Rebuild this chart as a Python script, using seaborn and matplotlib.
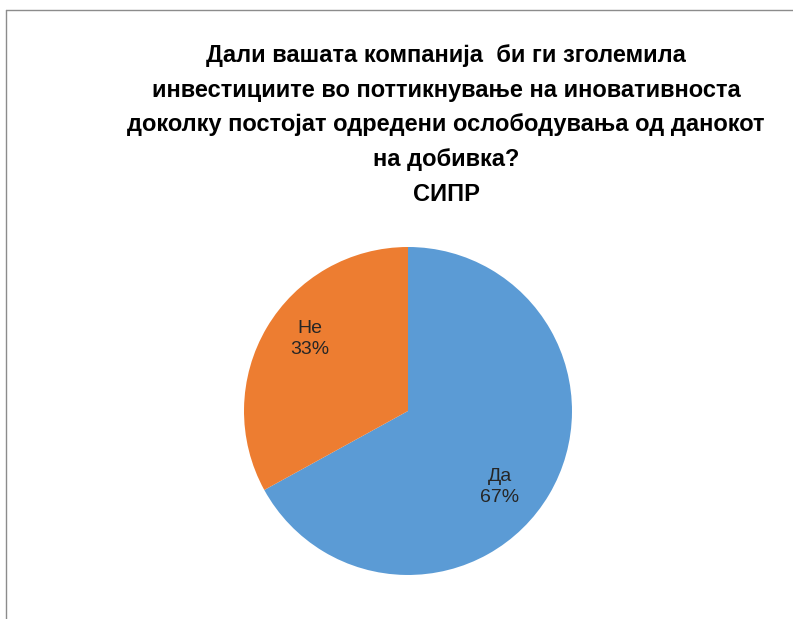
import matplotlib
matplotlib.use("Agg")
import matplotlib.pyplot as plt
from matplotlib.lines import Line2D
import seaborn as sns

# DATA
labels = ["Да", "Не"]
shares = [67, 33]
colors = ["#5B9BD5", "#ED7D31"]
title = ("Дали вашата компанија  би ги зголемила\n"
         "инвестициите во поттикнување на иновативноста\n"
         "доколку постојат одредени ослободувања од данокот\n"
         "на добивка?\n"
         "СИПР")

sns.set_theme(style="white")
plt.rcParams["font.family"] = ["Liberation Sans", "DejaVu Sans"]

fig = plt.figure(figsize=(7.93, 6.19), dpi=100)
fig.patch.set_facecolor("white")

# pie axes placed to match the reference pie
ax = fig.add_axes([0.3077, 0.0711, 0.4136, 0.5299])

it = iter(labels)
wedges, texts, autotexts = ax.pie(
    shares,
    colors=sns.color_palette(colors),
    startangle=90,
    counterclock=False,
    autopct=lambda p: f"{next(it)}\n{p:.0f}%",
    pctdistance=0.73,
    wedgeprops=dict(linewidth=0),
    textprops=dict(fontsize=14, color="#262626", linespacing=1.3),
)
# label spots as in the reference
autotexts[0].set_position((0.56, -0.465))
autotexts[1].set_position((-0.60, 0.44))
ax.set_xlim(-1, 1)
ax.set_ylim(-1, 1)
ax.set_aspect("equal")
ax.axis("off")

# TITLE
fig.text(0.5624, 1 - 125 / 619, title, ha="center", va="center",
         fontsize=17, fontweight="bold", linespacing=1.66,
         family=["Liberation Sans", "DejaVu Sans"], color="black")

# chart frame (top and left edges visible)
fig.add_artist(Line2D([6 / 793, 1], [1 - 10 / 619, 1 - 10 / 619],
                      transform=fig.transFigure, color="#8c8c8c", lw=1))
fig.add_artist(Line2D([6 / 793, 6 / 793], [0, 1 - 10 / 619],
                      transform=fig.transFigure, color="#8c8c8c", lw=1))

fig.savefig("out.png", dpi=100)
